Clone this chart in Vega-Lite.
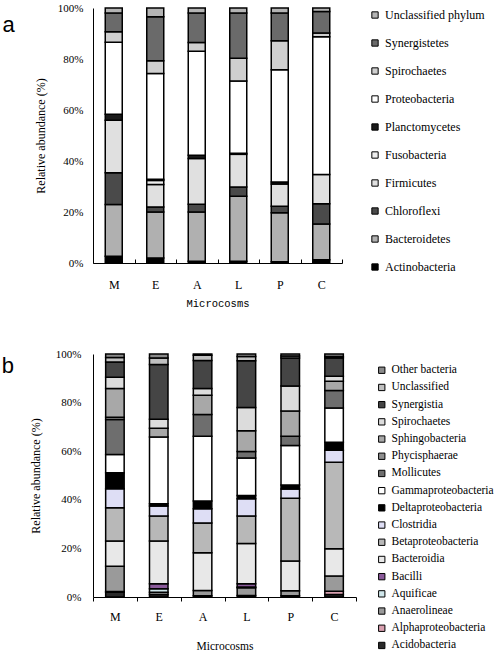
{
  "$schema": "https://vega.github.io/schema/vega-lite/v6.json",
  "padding": {"left": 1, "top": 2, "right": 0, "bottom": 0},
  "background": "white",
  "config": {
    "font": "Liberation Serif",
    "view": {"stroke": null},
    "axis": {"domainColor": "black", "tickColor": "black", "labelColor": "black", "titleColor": "black", "domainWidth": 1, "tickWidth": 1, "grid": false, "labelFont": "Liberation Serif", "titleFont": "Liberation Serif", "titleFontWeight": "normal"},
    "legend": {"labelFont": "Liberation Serif", "labelColor": "black", "padding": 0}
  },
  "datasets": {
    "phylum": [
      {"microcosm": "M", "taxon": "Actinobacteria", "pct": 2.6},
      {"microcosm": "M", "taxon": "Bacteroidetes", "pct": 20.3},
      {"microcosm": "M", "taxon": "Chloroflexi", "pct": 12.5},
      {"microcosm": "M", "taxon": "Firmicutes", "pct": 20.6},
      {"microcosm": "M", "taxon": "Planctomycetes", "pct": 2.3},
      {"microcosm": "M", "taxon": "Proteobacteria", "pct": 28.3},
      {"microcosm": "M", "taxon": "Spirochaetes", "pct": 4.1},
      {"microcosm": "M", "taxon": "Synergistetes", "pct": 7.3},
      {"microcosm": "M", "taxon": "Unclassified phylum", "pct": 2.0},
      {"microcosm": "E", "taxon": "Actinobacteria", "pct": 2.0},
      {"microcosm": "E", "taxon": "Bacteroidetes", "pct": 18.0},
      {"microcosm": "E", "taxon": "Chloroflexi", "pct": 2.0},
      {"microcosm": "E", "taxon": "Firmicutes", "pct": 8.8},
      {"microcosm": "E", "taxon": "Fusobacteria", "pct": 1.6},
      {"microcosm": "E", "taxon": "Planctomycetes", "pct": 0.4},
      {"microcosm": "E", "taxon": "Proteobacteria", "pct": 41.5},
      {"microcosm": "E", "taxon": "Spirochaetes", "pct": 5.0},
      {"microcosm": "E", "taxon": "Synergistetes", "pct": 17.3},
      {"microcosm": "E", "taxon": "Unclassified phylum", "pct": 3.4},
      {"microcosm": "A", "taxon": "Actinobacteria", "pct": 0.7},
      {"microcosm": "A", "taxon": "Bacteroidetes", "pct": 19.3},
      {"microcosm": "A", "taxon": "Chloroflexi", "pct": 3.0},
      {"microcosm": "A", "taxon": "Firmicutes", "pct": 18.0},
      {"microcosm": "A", "taxon": "Planctomycetes", "pct": 1.3},
      {"microcosm": "A", "taxon": "Proteobacteria", "pct": 40.7},
      {"microcosm": "A", "taxon": "Spirochaetes", "pct": 3.5},
      {"microcosm": "A", "taxon": "Synergistetes", "pct": 11.5},
      {"microcosm": "A", "taxon": "Unclassified phylum", "pct": 2.0},
      {"microcosm": "L", "taxon": "Actinobacteria", "pct": 0.7},
      {"microcosm": "L", "taxon": "Bacteroidetes", "pct": 25.5},
      {"microcosm": "L", "taxon": "Chloroflexi", "pct": 3.6},
      {"microcosm": "L", "taxon": "Firmicutes", "pct": 12.8},
      {"microcosm": "L", "taxon": "Planctomycetes", "pct": 0.4},
      {"microcosm": "L", "taxon": "Proteobacteria", "pct": 28.4},
      {"microcosm": "L", "taxon": "Spirochaetes", "pct": 8.9},
      {"microcosm": "L", "taxon": "Synergistetes", "pct": 17.7},
      {"microcosm": "L", "taxon": "Unclassified phylum", "pct": 2.0},
      {"microcosm": "P", "taxon": "Actinobacteria", "pct": 0.5},
      {"microcosm": "P", "taxon": "Bacteroidetes", "pct": 19.2},
      {"microcosm": "P", "taxon": "Chloroflexi", "pct": 2.6},
      {"microcosm": "P", "taxon": "Firmicutes", "pct": 8.7},
      {"microcosm": "P", "taxon": "Planctomycetes", "pct": 0.8},
      {"microcosm": "P", "taxon": "Proteobacteria", "pct": 44.0},
      {"microcosm": "P", "taxon": "Spirochaetes", "pct": 11.4},
      {"microcosm": "P", "taxon": "Synergistetes", "pct": 10.8},
      {"microcosm": "P", "taxon": "Unclassified phylum", "pct": 2.0},
      {"microcosm": "C", "taxon": "Actinobacteria", "pct": 1.3},
      {"microcosm": "C", "taxon": "Bacteroidetes", "pct": 14.0},
      {"microcosm": "C", "taxon": "Chloroflexi", "pct": 7.9},
      {"microcosm": "C", "taxon": "Firmicutes", "pct": 11.5},
      {"microcosm": "C", "taxon": "Proteobacteria", "pct": 54.0},
      {"microcosm": "C", "taxon": "Spirochaetes", "pct": 1.5},
      {"microcosm": "C", "taxon": "Synergistetes", "pct": 8.4},
      {"microcosm": "C", "taxon": "Unclassified phylum", "pct": 1.4}
    ],
    "cls": [
      {"microcosm": "M", "taxon": "Acidobacteria", "pct": 2.0},
      {"microcosm": "M", "taxon": "Alphaproteobacteria", "pct": 0.3},
      {"microcosm": "M", "taxon": "Anaerolineae", "pct": 10.4},
      {"microcosm": "M", "taxon": "Bacteroidia", "pct": 10.3},
      {"microcosm": "M", "taxon": "Betaproteobacteria", "pct": 13.7},
      {"microcosm": "M", "taxon": "Clostridia", "pct": 7.8},
      {"microcosm": "M", "taxon": "Deltaproteobacteria", "pct": 6.6},
      {"microcosm": "M", "taxon": "Gammaproteobacteria", "pct": 7.5},
      {"microcosm": "M", "taxon": "Mollicutes", "pct": 14.4},
      {"microcosm": "M", "taxon": "Phycisphaerae", "pct": 1.0},
      {"microcosm": "M", "taxon": "Sphingobacteria", "pct": 11.8},
      {"microcosm": "M", "taxon": "Spirochaetes", "pct": 4.6},
      {"microcosm": "M", "taxon": "Synergistia", "pct": 6.3},
      {"microcosm": "M", "taxon": "Unclassified", "pct": 1.9},
      {"microcosm": "M", "taxon": "Other bacteria", "pct": 1.4},
      {"microcosm": "E", "taxon": "Acidobacteria", "pct": 1.0},
      {"microcosm": "E", "taxon": "Anaerolineae", "pct": 1.0},
      {"microcosm": "E", "taxon": "Aquificae", "pct": 1.4},
      {"microcosm": "E", "taxon": "Bacilli", "pct": 2.1},
      {"microcosm": "E", "taxon": "Bacteroidia", "pct": 17.5},
      {"microcosm": "E", "taxon": "Betaproteobacteria", "pct": 10.3},
      {"microcosm": "E", "taxon": "Clostridia", "pct": 4.1},
      {"microcosm": "E", "taxon": "Deltaproteobacteria", "pct": 1.0},
      {"microcosm": "E", "taxon": "Gammaproteobacteria", "pct": 27.4},
      {"microcosm": "E", "taxon": "Sphingobacteria", "pct": 3.6},
      {"microcosm": "E", "taxon": "Spirochaetes", "pct": 3.7},
      {"microcosm": "E", "taxon": "Synergistia", "pct": 22.6},
      {"microcosm": "E", "taxon": "Unclassified", "pct": 2.7},
      {"microcosm": "E", "taxon": "Other bacteria", "pct": 1.6},
      {"microcosm": "A", "taxon": "Acidobacteria", "pct": 0.5},
      {"microcosm": "A", "taxon": "Anaerolineae", "pct": 2.2},
      {"microcosm": "A", "taxon": "Bacteroidia", "pct": 15.5},
      {"microcosm": "A", "taxon": "Betaproteobacteria", "pct": 12.3},
      {"microcosm": "A", "taxon": "Clostridia", "pct": 5.8},
      {"microcosm": "A", "taxon": "Deltaproteobacteria", "pct": 3.2},
      {"microcosm": "A", "taxon": "Gammaproteobacteria", "pct": 26.7},
      {"microcosm": "A", "taxon": "Mollicutes", "pct": 8.9},
      {"microcosm": "A", "taxon": "Sphingobacteria", "pct": 7.9},
      {"microcosm": "A", "taxon": "Spirochaetes", "pct": 2.8},
      {"microcosm": "A", "taxon": "Synergistia", "pct": 11.5},
      {"microcosm": "A", "taxon": "Unclassified", "pct": 2.2},
      {"microcosm": "A", "taxon": "Other bacteria", "pct": 0.5},
      {"microcosm": "L", "taxon": "Acidobacteria", "pct": 0.6},
      {"microcosm": "L", "taxon": "Anaerolineae", "pct": 3.2},
      {"microcosm": "L", "taxon": "Aquificae", "pct": 0.3},
      {"microcosm": "L", "taxon": "Bacilli", "pct": 1.4},
      {"microcosm": "L", "taxon": "Bacteroidia", "pct": 16.5},
      {"microcosm": "L", "taxon": "Betaproteobacteria", "pct": 11.3},
      {"microcosm": "L", "taxon": "Clostridia", "pct": 7.1},
      {"microcosm": "L", "taxon": "Deltaproteobacteria", "pct": 1.4},
      {"microcosm": "L", "taxon": "Gammaproteobacteria", "pct": 15.4},
      {"microcosm": "L", "taxon": "Mollicutes", "pct": 2.7},
      {"microcosm": "L", "taxon": "Sphingobacteria", "pct": 8.5},
      {"microcosm": "L", "taxon": "Spirochaetes", "pct": 9.6},
      {"microcosm": "L", "taxon": "Synergistia", "pct": 19.2},
      {"microcosm": "L", "taxon": "Unclassified", "pct": 1.8},
      {"microcosm": "L", "taxon": "Other bacteria", "pct": 1.0},
      {"microcosm": "P", "taxon": "Acidobacteria", "pct": 0.5},
      {"microcosm": "P", "taxon": "Anaerolineae", "pct": 2.1},
      {"microcosm": "P", "taxon": "Bacteroidia", "pct": 12.2},
      {"microcosm": "P", "taxon": "Betaproteobacteria", "pct": 25.8},
      {"microcosm": "P", "taxon": "Clostridia", "pct": 3.8},
      {"microcosm": "P", "taxon": "Deltaproteobacteria", "pct": 1.7},
      {"microcosm": "P", "taxon": "Gammaproteobacteria", "pct": 16.2},
      {"microcosm": "P", "taxon": "Mollicutes", "pct": 3.9},
      {"microcosm": "P", "taxon": "Sphingobacteria", "pct": 10.3},
      {"microcosm": "P", "taxon": "Spirochaetes", "pct": 10.3},
      {"microcosm": "P", "taxon": "Synergistia", "pct": 11.6},
      {"microcosm": "P", "taxon": "Unclassified", "pct": 0.8},
      {"microcosm": "P", "taxon": "Other bacteria", "pct": 0.8},
      {"microcosm": "C", "taxon": "Acidobacteria", "pct": 1.0},
      {"microcosm": "C", "taxon": "Alphaproteobacteria", "pct": 1.4},
      {"microcosm": "C", "taxon": "Anaerolineae", "pct": 6.2},
      {"microcosm": "C", "taxon": "Bacteroidia", "pct": 11.3},
      {"microcosm": "C", "taxon": "Betaproteobacteria", "pct": 35.6},
      {"microcosm": "C", "taxon": "Clostridia", "pct": 4.9},
      {"microcosm": "C", "taxon": "Deltaproteobacteria", "pct": 3.3},
      {"microcosm": "C", "taxon": "Gammaproteobacteria", "pct": 14.1},
      {"microcosm": "C", "taxon": "Mollicutes", "pct": 7.2},
      {"microcosm": "C", "taxon": "Sphingobacteria", "pct": 3.8},
      {"microcosm": "C", "taxon": "Spirochaetes", "pct": 2.0},
      {"microcosm": "C", "taxon": "Synergistia", "pct": 7.6},
      {"microcosm": "C", "taxon": "Unclassified", "pct": 0.6},
      {"microcosm": "C", "taxon": "Other bacteria", "pct": 1.0}
    ]
  },
  "spacing": 39,
  "resolve": {"scale": {"color": "independent", "x": "independent", "y": "independent"}},
  "vconcat": [
    {
      "width": 249,
      "height": 255,
      "data": {"name": "phylum"},
      "transform": [{"stack": "pct", "groupby": ["microcosm"], "as": ["y0", "y1"]}],
      "title": {"text": "a", "orient": "left", "anchor": "end", "angle": 0, "align": "left", "baseline": "alphabetic", "font": "Liberation Sans", "fontSize": 22, "fontWeight": "normal", "color": "black", "offset": 19.5, "dy": 30},
      "mark": {"type": "bar", "stroke": "black", "strokeWidth": 1.5, "width": 17},
      "encoding": {
        "x": {"field": "microcosm", "type": "nominal", "sort": ["M", "E", "A", "L", "P", "C"], "scale": {"paddingInner": 0, "paddingOuter": 0},
          "axis": {"title": "Microcosms", "labelAngle": 0, "tickBand": "extent", "tickSize": -4, "labelPadding": 20, "labelFontSize": 12, "titleFont": "Liberation Mono", "titleFontSize": 10.5, "titlePadding": 8}},
        "y": {"field": "y0", "type": "quantitative", "scale": {"domain": [0, 100], "nice": false},
          "axis": {"title": "Relative abundance (%)", "values": [0, 20, 40, 60, 80, 100], "labelExpr": "datum.value + '%'", "tickSize": 0, "labelPadding": 10, "labelFontSize": 11, "titleFontSize": 12, "titlePadding": 10}},
        "y2": {"field": "y1"},
        "color": {"field": "taxon", "type": "nominal",
          "scale": {"domain": ["Unclassified phylum", "Synergistetes", "Spirochaetes", "Proteobacteria", "Planctomycetes", "Fusobacteria", "Firmicutes", "Chloroflexi", "Bacteroidetes", "Actinobacteria"],
            "range": ["#b4b4b4", "#6a6a6a", "#cfcfcf", "#ffffff", "#1a1a1a", "#eeeeee", "#e0e0e0", "#4a4a4a", "#b0b0b0", "#000000"]},
          "legend": {"title": null, "orient": "none", "legendX": 276, "legendY": 1, "symbolType": "square", "symbolSize": 40, "symbolStrokeColor": "black", "symbolStrokeWidth": 1, "labelFontSize": 12, "labelOffset": 4, "rowPadding": 16}}
      }
    },
    {
      "width": 263,
      "height": 243,
      "data": {"name": "cls"},
      "transform": [{"stack": "pct", "groupby": ["microcosm"], "as": ["y0", "y1"]}],
      "title": {"text": "b", "orient": "left", "anchor": "end", "angle": 0, "align": "left", "baseline": "alphabetic", "font": "Liberation Sans", "fontSize": 22, "fontWeight": "normal", "color": "black", "offset": 15.5, "dy": 24.5},
      "mark": {"type": "bar", "stroke": "black", "strokeWidth": 1.5, "width": 18.5},
      "encoding": {
        "x": {"field": "microcosm", "type": "nominal", "sort": ["M", "E", "A", "L", "P", "C"], "scale": {"paddingInner": 0, "paddingOuter": 0},
          "axis": {"title": "Microcosms", "labelAngle": 0, "tickBand": "extent", "tickSize": 4, "labelPadding": 10, "labelFontSize": 12, "titleFontSize": 11.5, "titlePadding": 18}},
        "y": {"field": "y0", "type": "quantitative", "scale": {"domain": [0, 100], "nice": false},
          "axis": {"title": "Relative abundance (%)", "values": [0, 20, 40, 60, 80, 100], "labelExpr": "datum.value + '%'", "tickSize": 0, "labelPadding": 12, "labelFontSize": 11, "titleFontSize": 12, "titlePadding": 12.8}},
        "y2": {"field": "y1"},
        "color": {"field": "taxon", "type": "nominal",
          "scale": {"domain": ["Other bacteria", "Unclassified", "Synergistia", "Spirochaetes", "Sphingobacteria", "Phycisphaerae", "Mollicutes", "Gammaproteobacteria", "Deltaproteobacteria", "Clostridia", "Betaproteobacteria", "Bacteroidia", "Bacilli", "Aquificae", "Anaerolineae", "Alphaproteobacteria", "Acidobacteria"],
            "range": ["#8a8a8a", "#c0c0c0", "#454545", "#dcdcdc", "#a8a8a8", "#8e8e8e", "#6e6e6e", "#ffffff", "#000000", "#dedef5", "#b8b8b8", "#e8e8e8", "#8a5a9a", "#cfe6ea", "#9a9a9a", "#d9a0b0", "#2a2a2a"]},
          "legend": {"title": null, "orient": "none", "legendX": 283, "legendY": 10.5, "symbolType": "square", "symbolSize": 40, "symbolStrokeColor": "black", "symbolStrokeWidth": 1, "labelFontSize": 11.5, "labelOffset": 4, "rowPadding": 4.2}}
      }
    }
  ]
}
